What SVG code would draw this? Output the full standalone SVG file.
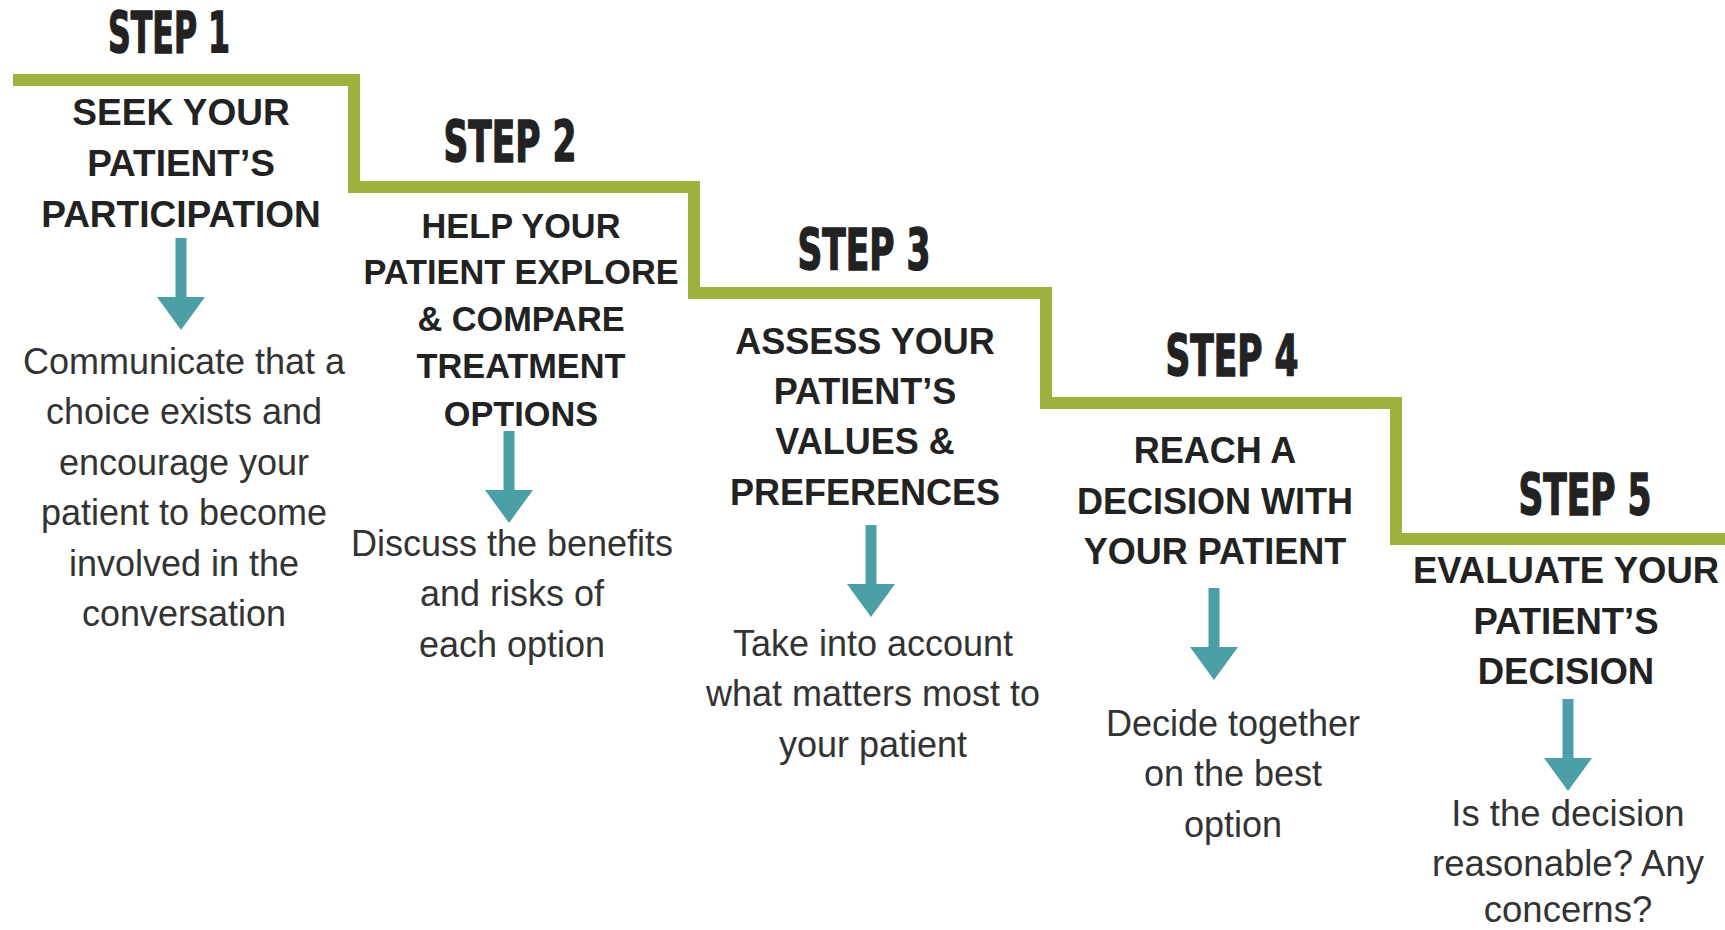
<svg xmlns="http://www.w3.org/2000/svg" width="1725" height="930" viewBox="0 0 1725 930">
<style>
.step{font-family:"Liberation Sans Narrow","DejaVu Sans Condensed","Liberation Sans",sans-serif;font-weight:bold;font-size:57px;fill:#222;stroke:#222;stroke-width:1.4;text-anchor:middle}
.hd{font-family:"Liberation Sans",Arial,sans-serif;font-weight:bold;font-size:36px;fill:#222;text-anchor:middle}
.bd{font-family:"Liberation Sans",Arial,sans-serif;font-size:36px;fill:#333;text-anchor:middle}
.stair{fill:none;stroke:#9DB23C;stroke-width:12;stroke-linejoin:miter}
.arr{fill:#4C9FA5}
</style>
<defs>
<path id="arrow" d="M-5.5,0 H5.5 V59 H24 L0,92 L-24,59 H-5.5 Z"/>
</defs>
<rect width="1725" height="930" fill="#fff"/>
<g id="staircase">
<path class="stair" d="M13,80 H354 V187 H694 V293 H1046 V403 H1396 V539 H1725"/>
</g>
<g id="connectors">
<use href="#arrow" class="arr" x="181" y="238"/>
<use href="#arrow" class="arr" x="509" y="431"/>
<use href="#arrow" class="arr" x="871" y="525"/>
<use href="#arrow" class="arr" x="1214" y="588"/>
<use href="#arrow" class="arr" x="1568" y="699"/>
</g>
<g id="step1">
<text class="step" x="169" y="53" textLength="122" lengthAdjust="spacingAndGlyphs">STEP 1</text>
<text class="hd" x="181" y="125" style="font-size:37px">SEEK YOUR</text>
<text class="hd" x="181" y="176" style="font-size:37px">PATIENT’S</text>
<text class="hd" x="181" y="227" style="font-size:37px">PARTICIPATION</text>
<text class="bd" x="184" y="374">Communicate that a</text>
<text class="bd" x="184" y="424">choice exists and</text>
<text class="bd" x="184" y="475">encourage your</text>
<text class="bd" x="184" y="525">patient to become</text>
<text class="bd" x="184" y="576">involved in the</text>
<text class="bd" x="184" y="626">conversation</text>
</g>
<g id="step2">
<text class="step" x="510" y="162" textLength="133" lengthAdjust="spacingAndGlyphs">STEP 2</text>
<text class="hd" x="521" y="238" style="font-size:34.3px">HELP YOUR</text>
<text class="hd" x="521" y="284" style="font-size:34.3px">PATIENT EXPLORE</text>
<text class="hd" x="521" y="331" style="font-size:34.3px">&amp; COMPARE</text>
<text class="hd" x="521" y="378" style="font-size:34.3px">TREATMENT</text>
<text class="hd" x="521" y="426" style="font-size:34.3px">OPTIONS</text>
<text class="bd" x="512" y="556">Discuss the benefits</text>
<text class="bd" x="512" y="606">and risks of</text>
<text class="bd" x="512" y="657">each option</text>
</g>
<g id="step3">
<text class="step" x="864" y="270" textLength="133" lengthAdjust="spacingAndGlyphs">STEP 3</text>
<text class="hd" x="865" y="354">ASSESS YOUR</text>
<text class="hd" x="865" y="404">PATIENT’S</text>
<text class="hd" x="865" y="454">VALUES &amp;</text>
<text class="hd" x="865" y="505">PREFERENCES</text>
<text class="bd" x="873" y="656">Take into account</text>
<text class="bd" x="873" y="706">what matters most to</text>
<text class="bd" x="873" y="757">your patient</text>
</g>
<g id="step4">
<text class="step" x="1232" y="376" textLength="133" lengthAdjust="spacingAndGlyphs">STEP 4</text>
<text class="hd" x="1215" y="463">REACH A</text>
<text class="hd" x="1215" y="514">DECISION WITH</text>
<text class="hd" x="1215" y="564">YOUR PATIENT</text>
<text class="bd" x="1233" y="736">Decide together</text>
<text class="bd" x="1233" y="786">on the best</text>
<text class="bd" x="1233" y="837">option</text>
</g>
<g id="step5">
<text class="step" x="1585" y="515" textLength="133" lengthAdjust="spacingAndGlyphs">STEP 5</text>
<text class="hd" x="1566" y="583" style="font-size:36.5px">EVALUATE YOUR</text>
<text class="hd" x="1566" y="634" style="font-size:36.5px">PATIENT’S</text>
<text class="hd" x="1566" y="684" style="font-size:36.5px">DECISION</text>
<text class="bd" x="1568" y="826" style="font-size:36.5px">Is the decision</text>
<text class="bd" x="1568" y="876" style="font-size:36.5px">reasonable? Any</text>
<text class="bd" x="1568" y="922" style="font-size:36.5px">concerns?</text>
</g>
</svg>
